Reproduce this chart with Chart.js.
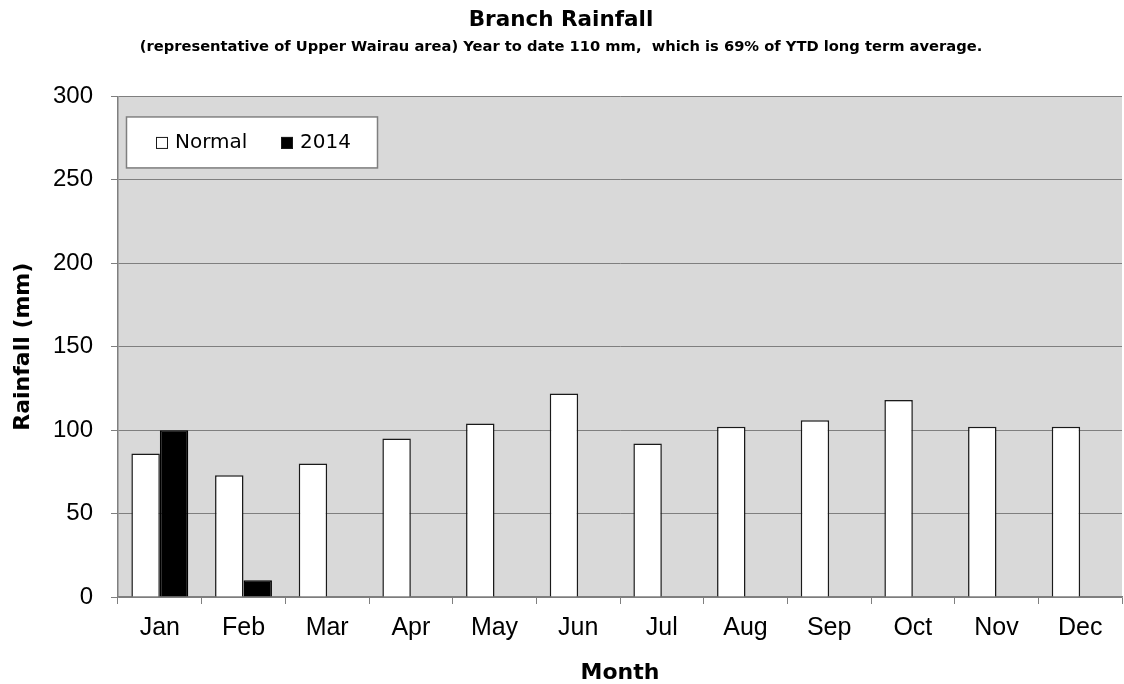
<!DOCTYPE html>
<html>
<head>
<meta charset="utf-8">
<script src="https://cdn.jsdelivr.net/npm/chart.js@4.4.1/dist/chart.umd.min.js"></script>
<style>
  html, body { margin: 0; padding: 0; background: #ffffff; }
  #wrap { width: 1124px; height: 684px; position: relative; }
</style>
</head>
<body>
<div id="wrap"><canvas id="c" width="1124" height="684"></canvas></div>
<script>
const months = ['Jan','Feb','Mar','Apr','May','Jun','Jul','Aug','Sep','Oct','Nov','Dec'];
const normalRain = [86, 73, 80, 95, 104, 122, 92, 102, 106, 118, 102, 102];
const rain2014 = [100, 10, null, null, null, null, null, null, null, null, null, null];
const seriesNames = ['Normal', '2014'];
const yTicks = [0, 50, 100, 150, 200, 250, 300];
const titleText = 'Branch Rainfall';
const subtitleText = '(representative of Upper Wairau area) Year to date 110 mm,  which is 69% of YTD long term average.';

const plotBg = {
  id: 'plotBg',
  beforeDraw(chart) {
    const {ctx, chartArea: a} = chart;
    ctx.save();
    ctx.fillStyle = '#d9d9d9';
    ctx.fillRect(a.left, a.top, a.right - a.left, a.bottom - a.top);
    ctx.restore();
  }
};

const boxLegend = {
  id: 'boxLegend',
  afterDraw(chart) {
    const {ctx, chartArea: a} = chart;
    const x0 = a.left + 8, y0 = a.top + 20, w = 251, h = 51;
    ctx.save();
    ctx.fillStyle = '#ffffff';
    ctx.fillRect(x0, y0, w, h);
    ctx.strokeStyle = '#7f7f7f';
    ctx.lineWidth = 1.5;
    ctx.strokeRect(x0 + 0.5, y0 + 0.5, w, h);
    ctx.font = '20px "DejaVu Sans"';
    ctx.textBaseline = 'middle';
    ctx.textAlign = 'left';
    const cy = y0 + h / 2 + 1;
    const items = [{sx: x0 + 30, tx: x0 + 49}, {sx: x0 + 155, tx: x0 + 174}];
    chart.data.datasets.forEach((ds, i) => {
      const it = items[i];
      ctx.fillStyle = ds.backgroundColor;
      ctx.fillRect(it.sx, cy - 6, 12, 12);
      ctx.strokeStyle = '#1a1a1a';
      ctx.lineWidth = 1;
      ctx.strokeRect(it.sx + 0.5, cy - 6 + 0.5, 11, 11);
      ctx.fillStyle = '#000000';
      ctx.fillText(ds.label, it.tx, cy);
    });
    ctx.restore();
  }
};

new Chart(document.getElementById('c'), {
  type: 'bar',
  data: {
    labels: months,
    datasets: [
      { label: seriesNames[0], data: normalRain, backgroundColor: '#ffffff', borderColor: '#1a1a1a', borderWidth: 1.5, borderSkipped: 'start' },
      { label: seriesNames[1], data: rain2014, backgroundColor: '#000000', borderColor: '#000000', borderWidth: 1.5, borderSkipped: 'start' }
    ]
  },
  options: {
    responsive: false,
    animation: false,
    devicePixelRatio: 1,
    layout: { padding: { left: 0, right: 2, top: 0, bottom: 0 } },
    datasets: { bar: { categoryPercentage: 0.68, barPercentage: 1.0 } },
    plugins: {
      legend: { display: false },
      tooltip: { enabled: false },
      title: {
        display: true, text: titleText, color: '#000',
        font: { family: 'DejaVu Sans', size: 21.5, weight: 'bold', lineHeight: 1.2 },
        padding: { top: 8, bottom: 1 }
      },
      subtitle: {
        display: true, text: subtitleText, color: '#000',
        font: { family: 'DejaVu Sans', size: 14.7, weight: 'bold', lineHeight: 1.2 },
        padding: { top: 4, bottom: 40 }
      }
    },
    scales: {
      x: {
        offset: true,
        grid: { display: true, offset: true, drawOnChartArea: false, drawTicks: true, tickLength: 7, color: '#7f7f7f', lineWidth: 1 },
        border: { display: true, color: '#7f7f7f', width: 1.5 },
        ticks: { color: '#000', font: { family: 'Liberation Sans', size: 25 }, padding: 9, maxRotation: 0, autoSkip: false },
        title: { display: true, text: 'Month', color: '#000', font: { family: 'DejaVu Sans', size: 22, weight: 'bold', lineHeight: 1 }, padding: { top: 0, bottom: 0 } },
        afterFit(scale) { scale.height = 87; }
      },
      y: {
        min: 0, max: 300,
        afterBuildTicks(scale) { scale.ticks = yTicks.map(v => ({ value: v })); },
        grid: { color: '#7f7f7f', lineWidth: 1, tickLength: 7, drawTicks: true },
        border: { display: true, color: '#7f7f7f', width: 1.5 },
        ticks: { color: '#000', font: { family: 'Liberation Sans', size: 24 }, padding: 18 },
        title: { display: true, text: 'Rainfall (mm)', color: '#000', font: { family: 'DejaVu Sans', size: 22, weight: 'bold', lineHeight: 1.2 }, padding: { top: 10, bottom: 0 } },
        afterFit(scale) { scale.width = 118; }
      }
    }
  },
  plugins: [plotBg, boxLegend]
});
</script>
</body>
</html>
